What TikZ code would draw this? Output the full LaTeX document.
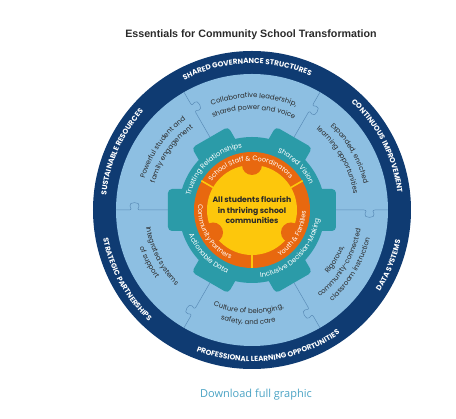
\documentclass[tikz,border=0pt]{standalone}
\usepackage{fontspec}
\setmainfont{Poppins}
\newfontfamily\titlefont{Liberation Sans}
\newfontfamily\linkfont{Open Sans}
\usetikzlibrary{decorations.text}
\definecolor{navy}{HTML}{0F3B72}
\definecolor{lblue}{HTML}{8DBFE2}
\definecolor{gearteal}{HTML}{2B9BA8}
\definecolor{ringorange}{HTML}{E8680F}
\definecolor{coreyellow}{HTML}{FDC70C}
\definecolor{puzline}{HTML}{5B8DB8}
\definecolor{darktext}{HTML}{2A2A2A}
\definecolor{linkcol}{HTML}{4AA3C4}
\newcommand\fNavy{\fontsize{7.3pt}{8pt}\selectfont\bfseries}
\newcommand\fSec{\fontsize{6.9pt}{8pt}\selectfont}
\newcommand\fGear{\fontsize{6.9pt}{8pt}\selectfont}
\newcommand\fRing{\fontsize{6.6pt}{8pt}\selectfont}
% clockwise arc text, tops outward: radius, centre angle, colour, font, text
\newcommand\cwtext[5]{\path[decorate,decoration={text along path,text align=center,text color=#3,text={|#4|#5}}] ({#2+85}:#1pt) arc[start angle={#2+85},end angle={#2-85},radius=#1pt];}
% counter-clockwise arc text, tops inward
\newcommand\ccwtext[5]{\path[decorate,decoration={text along path,text align=center,text color=#3,text={|#4|#5}}] ({#2-85}:#1pt) arc[start angle={#2-85},end angle={#2+85},radius=#1pt];}
\tikzset{
  puz/.style={draw=puzline, line width=0.5pt},
  tooth/.style={fill=gearteal, rounded corners=4pt},
}
\begin{document}
\begin{tikzpicture}[x=1pt,y=1pt]
\useasboundingbox (-252,-209) rectangle (204,210);
% title and link
\node[font=\titlefont\bfseries\fontsize{10.7pt}{12pt}\selectfont, text=darktext] (title) at (-1,175) {Essentials for Community School Transformation};
\node[font=\linkfont\fontsize{11pt}{13pt}\selectfont, text=linkcol] (dl) at (4,-185) {Download full graphic};
% rings
\fill[navy] (0,0) circle[radius=159pt];
\fill[lblue] (0,0) circle[radius=136pt];
% puzzle lines
\foreach \a in {0,60,...,300} {
  \draw[puz, rotate=\a] (80pt,0pt) -- (112pt,0pt) .. controls (115pt,0pt) and (114pt,-2pt) .. (113pt,-4pt) .. controls (111pt,-8.5pt) and (124pt,-8.5pt) .. (122pt,-4pt) .. controls (121pt,-2pt) and (120pt,0pt) .. (123pt,0pt) -- (136pt,0pt);
}
% gear
\fill[gearteal] (0,0) circle[radius=73pt];
\foreach \a in {0,60,...,300} {
  \fill[tooth, rotate=\a] (62pt,-21pt) rectangle (84pt,21pt);
}
% orange ring and yellow core
\fill[ringorange] (0,0) circle[radius=58pt];
\fill[coreyellow] (0,0) circle[radius=45pt];
\foreach \a in {90,210,330} {
  \fill[ringorange] (\a:45pt) circle[radius=10pt];
}
\foreach \a in {30,150,270} {
  \draw[coreyellow, line width=1.6pt] (\a:44pt) -- (\a:58.5pt);
}
\node[font=\fontsize{7.7pt}{10.5pt}\selectfont\bfseries, text=darktext, align=center] (core) at (0,0) {All students flourish\\in thriving school\\communities};
% orange ring texts
\cwtext{49.2}{92}{white}{\fRing}{School Staff {\&} Coordinators}
\ccwtext{53.8}{210}{white}{\fRing}{Community Partners}
\ccwtext{53.8}{-30}{white}{\fRing}{Youth {\&} Families}
% gear texts
\cwtext{63.2}{133}{white}{\fGear}{Trusting Relationships}
\cwtext{63.2}{45}{white}{\fGear}{Shared Vision}
\ccwtext{67.8}{-45}{white}{\fGear}{Inclusive Decision-Making}
\ccwtext{67.8}{-135}{white}{\fGear}{Actionable Data}
% sector texts
\cwtext{112.2}{89}{darktext}{\fSec}{Collaborative leadership,}
\cwtext{100.2}{89}{darktext}{\fSec}{shared power and voice}
\cwtext{114.7}{30}{darktext}{\fSec}{Expanded, enriched}
\cwtext{102.7}{30}{darktext}{\fSec}{learning opportunities}
\cwtext{111.7}{145}{darktext}{\fSec}{Powerful student and}
\cwtext{100.7}{145}{darktext}{\fSec}{family engagement}
\ccwtext{99.3}{-31}{darktext}{\fSec}{Rigorous,}
\ccwtext{110.3}{-31}{darktext}{\fSec}{community-connected}
\ccwtext{121.3}{-31}{darktext}{\fSec}{classroom instruction}
\ccwtext{103.3}{-92}{darktext}{\fSec}{Culture of belonging,}
\ccwtext{114.3}{-92}{darktext}{\fSec}{safety, and care}
\ccwtext{107.3}{207}{darktext}{\fSec}{Integrated systems}
\ccwtext{118.3}{207}{darktext}{\fSec}{of support}
% navy ring texts
\cwtext{146.4}{92}{white}{\fNavy}{SHARED GOVERNANCE STRUCTURES}
\cwtext{146.4}{27}{white}{\fNavy}{CONTINUOUS IMPROVEMENT}
\cwtext{146.4}{156}{white}{\fNavy}{SUSTAINABLE RESOURCES}
\ccwtext{151.6}{-22}{white}{\fNavy}{DATA SYSTEMS}
\ccwtext{151.6}{-83}{white}{\fNavy}{PROFESSIONAL LEARNING OPPORTUNITIES}
\ccwtext{151.6}{209}{white}{\fNavy}{STRATEGIC PARTNERSHIPS}
\end{tikzpicture}
\end{document}
